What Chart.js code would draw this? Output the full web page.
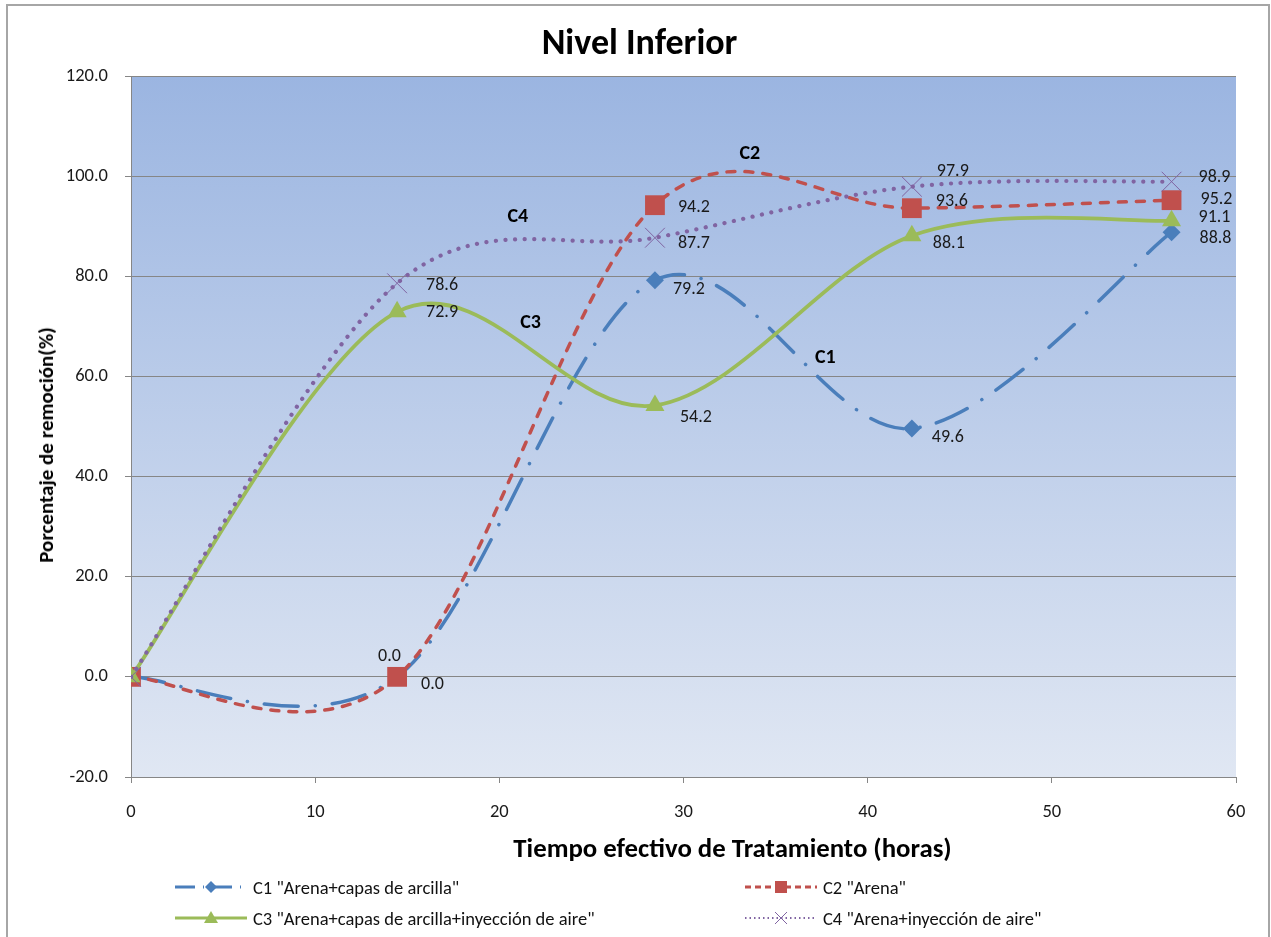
<!DOCTYPE html>
<html>
<head>
<meta charset="utf-8">
<script src="https://cdn.jsdelivr.net/npm/chart.js@4/dist/chart.umd.min.js"></script>
<style>
  html, body { margin:0; padding:0; background:#fff; }
  body { width:1271px; height:937px; position:relative; overflow:hidden;
         font-family: Carlito, Calibri, Lato, "Open Sans", sans-serif; }
  #frame { position:absolute; left:6px; top:4px; width:1264px; height:960px;
           border:2px solid #a6a6a6; box-sizing:border-box; }
  #wrap { position:absolute; left:0; top:0; width:1271px; height:937px; }
  .txt { position:absolute; white-space:nowrap; color:#000; }
  #title { left:0; width:1279px; text-align:center; top:22px; font-size:36px; font-weight:bold; line-height:40px; }
  #xtitle { left:0; width:1465px; text-align:center; top:833px; font-size:26.8px; font-weight:bold; line-height:30px; }
  #ytitle { left:46px; top:445px; font-size:21px; font-weight:bold; line-height:30px;
            transform: translate(-50%,-50%) rotate(-90deg); }
  .leg { position:absolute; display:flex; align-items:center; font-size:18.5px; color:#111; height:20px; }
  .leg svg { margin-right:6px; }
</style>
</head>
<body>
<div id="frame"></div>
<div id="wrap"><canvas id="c" width="1271" height="937"></canvas></div>
<div id="title" class="txt">Nivel Inferior</div>
<div id="xtitle" class="txt">Tiempo efectivo de Tratamiento (horas)</div>
<div id="ytitle" class="txt">Porcentaje de remoción(%)</div>
<div id="legend"></div>
<script>
// ---------- data ----------
const hours = [0, 14.45, 28.45, 42.4, 56.5];
const seriesNames = ['C1 "Arena+capas de arcilla"', 'C2 "Arena"',
                     'C3 "Arena+capas de arcilla+inyección de aire"', 'C4 "Arena+inyección de aire"'];
const c1Values = [0, 0, 79.2, 49.6, 88.8];
const c2Values = [0, 0, 94.2, 93.6, 95.2];
const c3Values = [0, 72.9, 54.2, 88.1, 91.1];
const c4Values = [0, 78.6, 87.7, 97.9, 98.9];
const xTicks = [0, 10, 20, 30, 40, 50, 60];
const yTicks = [-20, 0, 20, 40, 60, 80, 100, 120];
// curve name tags placed in data units
const curveTags = [
  { text: 'C1', x: 37.7, y: 63.6 },
  { text: 'C2', x: 33.6, y: 104.4 },
  { text: 'C3', x: 21.7, y: 70.6 },
  { text: 'C4', x: 21.0, y: 91.8 }
];

// ---------- styles ----------
const FONT = 'Carlito, Calibri, Lato, "Open Sans", sans-serif';
const colors = ['#4A7EBB', '#C0504D', '#9BBB59', '#8064A2'];
const styles = [
  { dash: [34, 17, 0.1, 17], width: 3.5, pointStyle: 'rectRot', radius: 9 },
  { dash: [8, 10], width: 3.5, pointStyle: 'rect', radius: 14 },
  { dash: [], width: 3.75, pointStyle: 'triangle', radius: 11 },
  { dash: [0.1, 9.5], width: 4.2, pointStyle: 'crossRot', radius: 14 }
];
// label offsets (px) relative to the point, per series / point index
const labelOffsets = [
  [null, [24, 8], [18, 9], [20, 9], [28, 6]],
  [null, [-19, -20], [23, 2], [24, -7], [29, -1]],
  [null, [29, 1], [25, 12], [21, 8], [27, -3]],
  [null, [29, 2], [23, 6], [25, -15], [27, -4]]
];
const seriesValues = [c1Values, c2Values, c3Values, c4Values];

const datasets = seriesValues.map((vals, i) => ({
  label: seriesNames[i],
  data: hours.map((h, k) => ({ x: h, y: vals[k] })),
  borderColor: colors[i],
  backgroundColor: colors[i],
  borderWidth: styles[i].width,
  borderDash: styles[i].dash,
  borderCapStyle: 'round',
  borderJoinStyle: 'round',
  tension: 0.4,
  pointStyle: styles[i].pointStyle,
  pointRadius: styles[i].radius,
  pointHoverRadius: styles[i].radius,
  pointBorderWidth: i === 3 ? 1 : 0,
  pointBorderColor: colors[i],
  pointBackgroundColor: colors[i],
  order: 3 - i,
  fill: false
}));

// Excel-like smoothing (Catmull-Rom control points on pixel positions from the scales)
const smoothPlugin = {
  id: 'excelSmooth',
  beforeDatasetDraw(chart, args) {
    const meta = args.meta;
    const pts = meta.data;
    const n = pts.length;
    for (let i = 0; i < n; i++) {
      const p = pts[i];
      const prev = pts[Math.max(0, i - 1)];
      const next = pts[Math.min(n - 1, i + 1)];
      const tx = (next.x - prev.x) / 6, ty = (next.y - prev.y) / 6;
      p.cp1x = p.x - tx; p.cp1y = p.y - ty;
      p.cp2x = p.x + tx; p.cp2y = p.y + ty;
    }
    if (meta.dataset) { meta.dataset._pointsUpdated = true; delete meta.dataset._path; }
  }
};

const bgPlugin = {
  id: 'plotBg',
  beforeDraw(chart) {
    const { ctx, chartArea: a } = chart;
    const g = ctx.createLinearGradient(0, a.top, 0, a.bottom);
    g.addColorStop(0, '#9BB5E1');
    g.addColorStop(1, '#E0E7F3');
    ctx.save();
    ctx.fillStyle = g;
    ctx.fillRect(a.left, a.top, a.right - a.left, a.bottom - a.top);
    ctx.restore();
  }
};

const labelPlugin = {
  id: 'valueLabels',
  afterDatasetsDraw(chart) {
    const ctx = chart.ctx;
    ctx.save();
    ctx.font = '18px ' + FONT;
    ctx.fillStyle = '#1a1a1a';
    ctx.textAlign = 'left';
    ctx.textBaseline = 'middle';
    chart.data.datasets.forEach((ds, i) => {
      const meta = chart.getDatasetMeta(i);
      meta.data.forEach((p, k) => {
        const off = labelOffsets[i][k];
        if (!off) return;
        ctx.fillText(seriesValues[i][k].toFixed(1), p.x + off[0], p.y + off[1]);
      });
    });
    ctx.font = 'bold 20px ' + FONT;
    ctx.fillStyle = '#000';
    ctx.textAlign = 'center';
    const xs = chart.scales.x, ys = chart.scales.y;
    curveTags.forEach(t => {
      ctx.fillText(t.text, xs.getPixelForValue(t.x), ys.getPixelForValue(t.y));
    });
    ctx.restore();
  }
};

new Chart(document.getElementById('c'), {
  type: 'line',
  data: { datasets },
  plugins: [bgPlugin, smoothPlugin, labelPlugin],
  options: {
    responsive: false,
    animation: false,
    events: [],
    layout: { padding: { left: 0, top: 76, right: 35, bottom: 100 } },
    plugins: { legend: { display: false }, tooltip: { enabled: false }, title: { display: false } },
    scales: {
      x: {
        type: 'linear', min: 0, max: 60,
        afterBuildTicks: s => { s.ticks = xTicks.map(v => ({ value: v })); },
        afterFit: s => { s.height = 60; },
        grid: { display: true, drawOnChartArea: false, drawTicks: true, tickLength: 6, color: '#868686', lineWidth: 1 },
        border: { display: true, color: '#868686', width: 1 },
        ticks: { color: '#1a1a1a', font: { family: FONT, size: 18.5 }, padding: 18, maxRotation: 0,
                 callback: v => String(v) }
      },
      y: {
        type: 'linear', min: -20, max: 120,
        afterBuildTicks: s => { s.ticks = yTicks.map(v => ({ value: v })); },
        afterFit: s => { s.width = 131; },
        grid: { display: true, drawOnChartArea: true, drawTicks: true, tickLength: 6, color: '#868686', lineWidth: 1 },
        border: { display: true, color: '#868686', width: 1 },
        ticks: { color: '#1a1a1a', font: { family: FONT, size: 18.5 }, padding: 17,
                 callback: v => Number(v).toFixed(1) }
      }
    }
  }
});

// ---------- HTML legend ----------
function markerSvg(i, cx, cy) {
  const c = colors[i];
  if (i === 0) return `<polygon points="${cx-6},${cy} ${cx},${cy-6} ${cx+6},${cy} ${cx},${cy+6}" fill="${c}"/>`;
  if (i === 1) return `<rect x="${cx-6}" y="${cy-6}" width="12" height="12" fill="${c}"/>`;
  if (i === 2) return `<polygon points="${cx-7},${cy+5} ${cx},${cy-7} ${cx+7},${cy+5}" fill="${c}"/>`;
  return `<path d="M${cx-6} ${cy-6} L${cx+6} ${cy+6} M${cx+6} ${cy-6} L${cx-6} ${cy+6}" stroke="${c}" stroke-width="1"/>`;
}
const legendDash = ['20 8 1 8', '6 4', '', '1.5 3'];
const legendWidths = [3, 3, 3, 2];
const legendPos = [[175, 877], [745, 877], [175, 908], [745, 908]];
const legend = document.getElementById('legend');
seriesNames.forEach((name, i) => {
  const d = document.createElement('div');
  d.className = 'leg';
  d.style.left = legendPos[i][0] + 'px';
  d.style.top = legendPos[i][1] + 'px';
  const dashAttr = legendDash[i] ? `stroke-dasharray="${legendDash[i]}"` : '';
  d.innerHTML = `<svg width="72" height="16"><line x1="0" y1="8" x2="72" y2="8" stroke="${colors[i]}" stroke-width="${legendWidths[i]}" ${dashAttr}/>${markerSvg(i, 36, 8)}</svg><span></span>`;
  d.querySelector('span').textContent = name;
  legend.appendChild(d);
});
</script>
</body>
</html>
